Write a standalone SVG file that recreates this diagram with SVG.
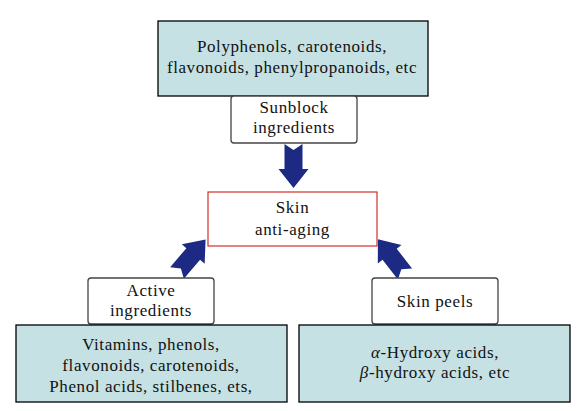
<svg xmlns="http://www.w3.org/2000/svg" width="585" height="411" viewBox="0 0 585 411">
<defs>
<style>
text{font-family:"Liberation Serif","Times New Roman",serif;font-size:17px;letter-spacing:0.6px;fill:#111;text-anchor:middle}
.src{fill:#c6e1e4;stroke:#000;stroke-width:1.3}
.lab{fill:#fff;stroke:#444;stroke-width:1.3}
.core{fill:#fff;stroke:#d0302a;stroke-width:1.2}
.arr{fill:#1c2a84}
</style>
<path id="blk" d="M-9,0 L0,6 L9,0 L9,25 L15,25 L0,44 L-15,25 L-9,25 Z"/>
</defs>
<g id="connectors">
<use href="#blk" class="arr" transform="translate(293.5,144)"/>
<use href="#blk" class="arr" transform="translate(177,273) rotate(-139.5)"/>
<use href="#blk" class="arr" transform="translate(405,274) rotate(142)"/>
</g>
<g id="top-source">
<rect class="src" x="158" y="21" width="270" height="75"/>
<text x="292" y="52">Polyphenols, carotenoids,</text>
<text x="292" y="73">flavonoids, phenylpropanoids, etc</text>
</g>
<g id="sunblock">
<rect class="lab" x="231" y="96" width="126" height="47" rx="3"/>
<text x="294" y="113">Sunblock</text>
<text x="294" y="133">ingredients</text>
</g>
<g id="skin-anti-aging">
<rect class="core" x="208" y="192" width="169" height="54"/>
<text x="292.5" y="213">Skin</text>
<text x="292.5" y="235">anti-aging</text>
</g>
<g id="active">
<rect class="lab" x="88" y="278" width="126" height="46" rx="3"/>
<text x="151" y="296">Active</text>
<text x="151" y="316">ingredients</text>
</g>
<g id="left-source">
<rect class="src" x="16" y="325" width="271" height="77"/>
<text x="151" y="350">Vitamins, phenols,</text>
<text x="151" y="371">flavonoids, carotenoids,</text>
<text x="151" y="392">Phenol acids, stilbenes, ets,</text>
</g>
<g id="skin-peels">
<rect class="lab" x="372" y="278" width="126" height="46" rx="3"/>
<text x="435" y="307">Skin peels</text>
</g>
<g id="right-source">
<rect class="src" x="299" y="325" width="271" height="77"/>
<text x="435" y="358"><tspan font-style="italic">α</tspan>-Hydroxy acids,</text>
<text x="435" y="378"><tspan font-style="italic">β</tspan>-hydroxy acids, etc</text>
</g>
</svg>
